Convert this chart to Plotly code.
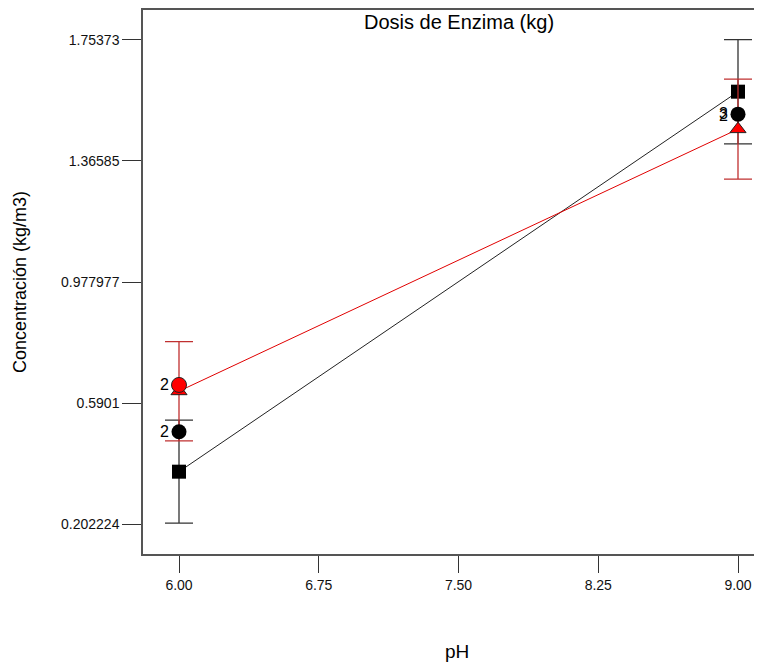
import plotly.graph_objects as go

# Data
ph = [6.0, 9.0]
low_mean = [0.370, 1.588]
low_err = [0.165, 0.167]
high_mean = [0.628, 1.468]
high_err = [0.159, 0.160]

# design points (observed)
pts_black_x = [6.0, 9.0]
pts_black_y = [0.498, 1.516]
pts_red_x = [6.0]
pts_red_y = [0.648]
pt_labels = [(6.0, 0.498, "2", 0), (6.0, 0.648, "2", 0), (9.0, 1.516, "2", -1), (9.0, 1.516, "3", 1)]

y_tickvals = [0.202224, 0.5901, 0.977977, 1.36585, 1.75373]
y_ticktext = ["0.202224", "0.5901", "0.977977", "1.36585", "1.75373"]
x_tickvals = [6.00, 6.75, 7.50, 8.25, 9.00]
x_ticktext = ["6.00", "6.75", "7.50", "8.25", "9.00"]

FONT = "Liberation Sans, Arial, sans-serif"
BLACK = "#000000"
RED = "#e00000"

fig = go.Figure()

fig.add_trace(go.Scatter(
    x=ph, y=low_mean, mode="lines+markers",
    line=dict(color="#222222", width=1),
    marker=dict(symbol="square", size=14, color=BLACK),
    error_y=dict(type="data", array=low_err, color="#333333", thickness=1.3, width=14),
    showlegend=False))

fig.add_trace(go.Scatter(
    x=ph, y=high_mean, mode="lines+markers",
    line=dict(color=RED, width=1),
    marker=dict(symbol="triangle-up", size=14, color="#ff0000", line=dict(color="#222222", width=1)),
    error_y=dict(type="data", array=high_err, color="#c03030", thickness=1.3, width=14),
    showlegend=False))

fig.add_trace(go.Scatter(
    x=pts_black_x, y=pts_black_y, mode="markers",
    marker=dict(symbol="circle", size=15, color=BLACK),
    showlegend=False))

fig.add_trace(go.Scatter(
    x=pts_red_x, y=pts_red_y, mode="markers",
    marker=dict(symbol="circle", size=15, color="#ff0000", line=dict(color="#222222", width=1)),
    showlegend=False))

for (xv, yv, t, dy) in pt_labels:
    fig.add_annotation(x=xv, y=yv, text=t, showarrow=False, xanchor="right",
                       xshift=-8, yshift=dy, font=dict(family=FONT, size=16, color=BLACK))

fig.add_annotation(x=0.5, y=1, xref="paper", yref="paper", xanchor="center", yanchor="top",
                   text="Dosis de Enzima (kg)", showarrow=False, xshift=6, yshift=1,
                   font=dict(family=FONT, size=20, color=BLACK))
fig.add_annotation(x=0, y=0.5, xref="paper", yref="paper", xanchor="center", yanchor="middle",
                   text="Concentración (kg/m3)", showarrow=False, xshift=-123, textangle=-90,
                   font=dict(family=FONT, size=18, color=BLACK))
fig.add_annotation(x=0.5, y=0, xref="paper", yref="paper", xanchor="center", yanchor="middle",
                   text="pH", showarrow=False, xshift=4, yshift=-97,
                   font=dict(family=FONT, size=19, color=BLACK))

fig.update_layout(
    width=754, height=657,
    margin=dict(l=135, r=0, t=2, b=111),
    plot_bgcolor="white", paper_bgcolor="white",
    font=dict(family=FONT, size=14, color="#111111"),
    xaxis=dict(range=[5.8068, 9.1288], tickvals=x_tickvals, ticktext=x_ticktext,
               showgrid=False, zeroline=False, showline=True, linecolor="#555555", linewidth=1.5,
               mirror=True, ticks="outside", ticklen=17, tickcolor="#333333",
               tickfont=dict(family=FONT, size=14, color="#111111")),
    yaxis=dict(range=[0.10613, 1.8498], tickvals=y_tickvals, ticktext=y_ticktext,
               showgrid=False, zeroline=False, showline=True, linecolor="#555555", linewidth=1.5,
               ticks="outside", ticklen=19, tickcolor="#333333",
               tickfont=dict(family=FONT, size=14, color="#111111")),
)

fig.write_html("out.html")
